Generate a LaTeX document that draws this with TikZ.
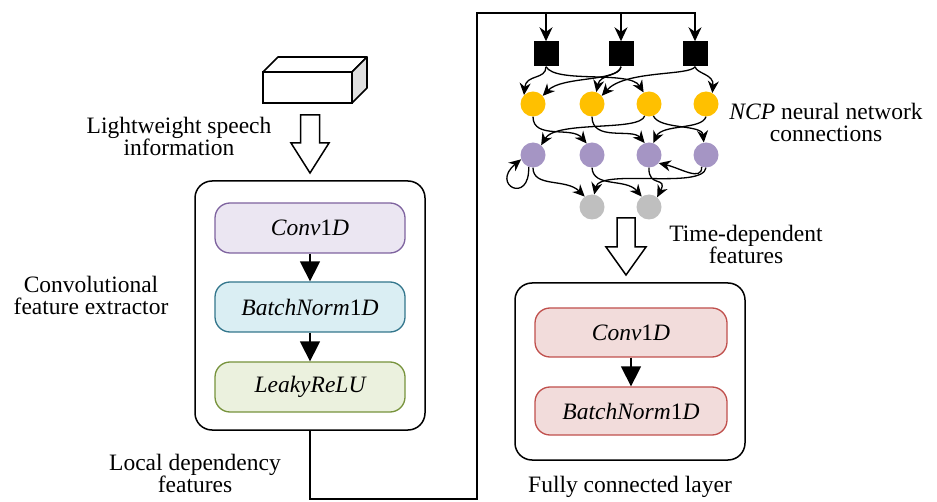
\documentclass[tikz,border=0pt]{standalone}
\usepackage{fontspec}
\setmainfont{Liberation Serif}
\usetikzlibrary{arrows.meta}

\definecolor{convfill}{HTML}{EBE6F2}
\definecolor{convline}{HTML}{7E639F}
\definecolor{bnfill}{HTML}{DAEEF3}
\definecolor{bnline}{HTML}{33768C}
\definecolor{relufill}{HTML}{EBF1DE}
\definecolor{reluline}{HTML}{77933C}
\definecolor{fcfill}{HTML}{F2DCDB}
\definecolor{fcline}{HTML}{C0504D}
\definecolor{ncpin}{HTML}{FFC000}
\definecolor{ncpmid}{HTML}{A595C4}
\definecolor{ncpout}{HTML}{BFBFBF}

\tikzset{
  lbl/.style={font=\fontsize{23.5}{22}\selectfont, align=center, inner sep=0pt},
  frame/.style={draw, rounded corners=17pt, line width=1.5pt, inner sep=0pt},
  stage/.style={draw, rounded corners=15pt, line width=1.3pt, inner sep=0pt,
    minimum width=190pt, minimum height=50pt, font=\fontsize{23.5}{22}\selectfont},
  neuron/.style={circle, minimum size=25pt, inner sep=0pt},
  gate/.style={fill=black, minimum size=25pt, inner sep=0pt},
  link/.style={-{Stealth[length=12pt,width=11pt]}, line width=1.3pt},
  bus/.style={line width=1.6pt},
  busdrop/.style={-{Stealth[length=14pt,width=13pt]}, line width=1.6pt},
  flow/.style={-{Triangle[length=20pt,width=20pt]}, line width=1.5pt},
  hollow/.style={draw, fill=white, line width=1.5pt, line join=miter}
}

\begin{document}
\begin{tikzpicture}[x=1pt,y=-1pt]
\useasboundingbox (0,0) rectangle (937,502);

% speech input block (3-D bar)
\draw[line width=1.6pt, fill=white] (263,72) rectangle (352,103);
\draw[line width=1.6pt, fill=white, line join=round] (263,72) -- (278,57) -- (367,57) -- (352,72) -- cycle;
\draw[line width=1.6pt, fill=black!12, line join=round] (352,72) -- (367,57) -- (367,88) -- (352,103) -- cycle;
\node[lbl] (speechlbl) at (179,136) {Lightweight speech\\information};

% hollow arrow into the extractor
\draw[hollow] (300.5,115) -- (319.5,115) -- (319.5,143) -- (329,143) -- (310,173)
  -- (291,143) -- (300.5,143) -- cycle;

% convolutional feature extractor
\node[frame, minimum width=230pt, minimum height=249pt] (cfe) at (310,305.5) {};
\node[stage, fill=convfill, draw=convline] (conv) at (310,228) {{\itshape Conv}1{\itshape D}};
\node[stage, fill=bnfill, draw=bnline] (bn) at (310,307) {{\itshape BatchNorm}1{\itshape D}};
\node[stage, fill=relufill, draw=reluline] (relu) at (310,387) {\itshape LeakyReLU};
\draw[flow] (conv) -- (bn);
\draw[flow] (bn) -- (relu);
\node[lbl] (cfelbl) at (91,295) {Convolutional\\feature extractor};
\node[lbl] (locallbl) at (195,473) {Local dependency\\features};

% NCP network: command, inter and motor neurons
\node[gate] (S1) at (546,54) {};
\node[gate] (S2) at (621,54) {};
\node[gate] (S3) at (695,54) {};
\node[neuron, fill=ncpin] (Y1) at (533,104) {};
\node[neuron, fill=ncpin] (Y2) at (592,104) {};
\node[neuron, fill=ncpin] (Y3) at (649,104) {};
\node[neuron, fill=ncpin] (Y4) at (706,104) {};
\node[neuron, fill=ncpmid] (P1) at (533,155) {};
\node[neuron, fill=ncpmid] (P2) at (592,155) {};
\node[neuron, fill=ncpmid] (P3) at (649,155) {};
\node[neuron, fill=ncpmid] (P4) at (706,155) {};
\node[neuron, fill=ncpout] (G1) at (592,207) {};
\node[neuron, fill=ncpout] (G2) at (649,207) {};

% feature bus from the extractor to the sensory gates
\coordinate (busTop) at (477,13);
\draw[bus, busdrop] (cfe.south) -- ++(0,68) -| (busTop) -| (S3.north);
\draw[busdrop] (S1.north |- busTop) -- (S1.north);
\draw[busdrop] (S2.north |- busTop) -- (S2.north);

% sensory -> first layer
\draw[link] (S1.south) .. controls (546,80) and (526,74) .. (Y1.north west);
\draw[link] (S1.south) .. controls (556,84) and (630,70) .. (Y3.115);
\draw[link] (S2.south) .. controls (618,82) and (562,76) .. (Y1.40);
\draw[link] (S2.south) .. controls (620,76) and (600,74) .. (Y2.70);
\draw[link] (S3.south) .. controls (690,76) and (625,70) .. (Y2.40);
\draw[link] (S3.south) .. controls (697,74) and (714,74) .. (Y4.60);

% first layer -> second layer
\draw[link] (Y1.south) .. controls (533,140) and (572,126) .. (P2.115);
\draw[link] (Y3.250) .. controls (640,132) and (556,120) .. (P1.50);
\draw[link] (Y2.south) .. controls (592,142) and (632,128) .. (P3.110);
\draw[link] (Y4.south) .. controls (702,130) and (662,124) .. (P3.70);
\draw[link] (Y3.290) .. controls (660,130) and (702,124) .. (P4.100);

% second layer -> outputs
\draw[link] (P1.250) .. controls (530,205) and (490,185) .. (P1.200);
\draw[link] (P1.south) .. controls (533,188) and (566,178) .. (G1.125);
\draw[link] (P2.south) .. controls (593,188) and (626,178) .. (G2.125);
\draw[link] (P3.south) .. controls (648,188) and (668,176) .. (G2.50);
\draw[link] (P4.250) .. controls (702,182) and (680,168) .. (P3.320);
\draw[link] (P4.south) .. controls (703,190) and (600,168) .. (G1.80);

\node[lbl] (ncplbl) at (826,122) {{\itshape NCP} neural network\\connections};
\node[lbl] (timelbl) at (746,244) {Time-dependent\\features};

% hollow arrow into the fully connected layer
\draw[hollow] (617,218) -- (635,218) -- (635,247) -- (646,247) -- (626,275)
  -- (606,247) -- (617,247) -- cycle;

% fully connected layer
\node[frame, minimum width=230pt, minimum height=177pt] (fcl) at (630,371.5) {};
\node[stage, fill=fcfill, draw=fcline, minimum width=192pt, minimum height=49pt] (fconv) at (631,332.5) {{\itshape Conv}1{\itshape D}};
\node[stage, fill=fcfill, draw=fcline, minimum width=192pt, minimum height=48pt] (fbn) at (631,411) {{\itshape BatchNorm}1{\itshape D}};
\draw[flow] (fconv) -- (fbn);
\node[lbl] (fcllbl) at (630,487) {Fully connected layer};
\end{tikzpicture}
\end{document}
